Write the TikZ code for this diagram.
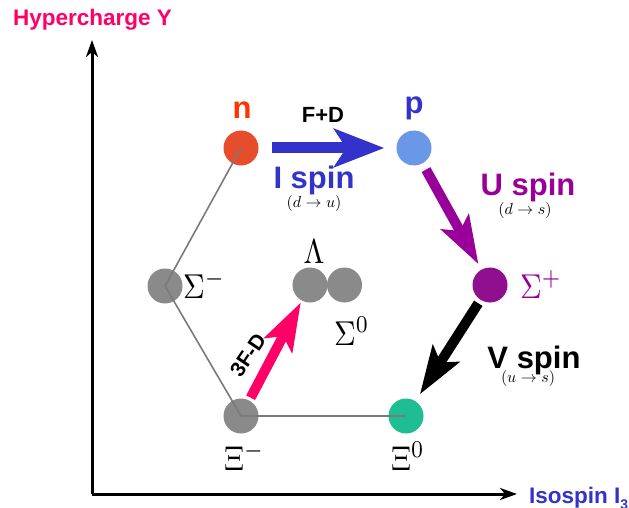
\documentclass[tikz,border=0pt]{standalone}
\usepackage{fontspec}
\usepackage{graphicx}
\usetikzlibrary{arrows.meta}
\newfontfamily\hvf{Liberation Sans}
\definecolor{ymag}{HTML}{FF0066}
\definecolor{iblue}{HTML}{3333CC}
\definecolor{upur}{HTML}{990099}
\definecolor{nred}{HTML}{FF3300}
\definecolor{nfill}{HTML}{E64D2A}
\definecolor{pfill}{HTML}{6A98E6}
\definecolor{sfill}{HTML}{8F0F8F}
\definecolor{xfill}{HTML}{1FBD94}
\definecolor{gfill}{HTML}{8A8A8A}
\definecolor{hexline}{HTML}{7A7A7A}
\tikzset{
  ball/.style={circle, minimum size=35pt, inner sep=0pt, draw=none},
  hexedge/.style={draw=hexline, line width=1.6pt},
  axisline/.style={line width=3pt, -{Stealth[length=17pt,width=12pt,inset=5pt]}},
  bigarrow/.style={line width=11pt, -{Stealth[length=50pt,width=38pt,inset=12pt]}},
  diagarrow/.style={line width=10pt, -{Stealth[length=48pt,width=31pt,inset=10pt]}},
  biglab/.style={font=\hvf\bfseries\fontsize{31}{31}\selectfont, inner sep=0pt, anchor=base},
  midlab/.style={font=\hvf\bfseries\fontsize{22}{22}\selectfont, inner sep=0pt},
  mathlab/.style={inner sep=0pt, anchor=base west},
  sublab/.style={inner sep=0pt}
}
\newcommand{\tallmath}[1]{\scalebox{3}[3.45]{$#1$}}
\newcommand{\smallmath}[1]{\scalebox{1.6}{$#1$}}
\begin{document}
\begin{tikzpicture}[x=1pt,y=-1pt]
\useasboundingbox (0,0) rectangle (629,508);
% axes
\coordinate (O) at (92,494);
\coordinate (Ytip) at (92,40);
\coordinate (Xtip) at (517,494);
\draw[axisline] (O) -- (Ytip);
\draw[axisline] (O) -- (Xtip);
\node[font=\hvf\bfseries\fontsize{22.5}{22.5}\selectfont, text=ymag, inner sep=0pt, anchor=base west] (ylab) at (13,26) {Hypercharge Y};
\node[font=\hvf\bfseries\fontsize{22.5}{22.5}\selectfont, text=iblue, inner sep=0pt, anchor=base west] (xlab) at (529,503) {Isospin I\raisebox{-0.28em}{\fontsize{14}{14}\selectfont 3}};
% particles
\node[ball, fill=nfill] (n) at (241,148) {};
\node[ball, fill=pfill] (p) at (414,148) {};
\node[ball, fill=gfill] (sm) at (165,286) {};
\node[ball, fill=sfill] (sp) at (490,285) {};
\node[ball, fill=gfill] (lam) at (310,285) {};
\node[ball, fill=gfill] (s0) at (344.5,285) {};
\node[ball, fill=gfill] (xm) at (241,416) {};
\node[ball, fill=xfill] (x0) at (406,416) {};
% hexagon edges
\draw[hexedge] (n.center) -- (sm.center) -- (xm.center) -- (x0.center);
% labels
\node[biglab, text=nred] (nlab) at (242,119) {n};
\node[biglab, text=iblue] (plab) at (414,114) {p};
\node[mathlab] (smlab) at (183,298) {\tallmath{\Sigma^-}};
\node[mathlab, text=upur] (splab) at (520,298) {\tallmath{\Sigma^+}};
\node[mathlab, anchor=base] (lamlab) at (314,263) {\tallmath{\Lambda}};
\node[mathlab] (s0lab) at (334,345) {\tallmath{\Sigma^0}};
\node[mathlab] (xmlab) at (224,470) {\tallmath{\Xi^-}};
\node[mathlab] (x0lab) at (391,470) {\tallmath{\Xi^0}};
% arrows
\draw[bigarrow, iblue, shorten <=13pt, shorten >=12pt] (n) -- (p);
\draw[diagarrow, upur, shorten <=7pt, shorten >=6pt] (p) -- (sp);
\draw[diagarrow, black, shorten <=4pt, shorten >=8pt] (sp) -- (x0);
\draw[diagarrow, ymag, shorten <=3pt, shorten >=2pt] (xm) -- (lam);
% arrow labels
\node[midlab, anchor=base] (fd) at (323,123) {F+D};
\node[biglab, text=iblue] (ispin) at (314,188) {I spin};
\node[sublab] (du) at (314,203) {\smallmath{(d\to u)}};
\node[biglab, text=upur] (uspin) at (528,195) {U spin};
\node[sublab] (ds) at (525,210) {\smallmath{(d\to s)}};
\node[biglab] (vspin) at (534,368) {V spin};
\node[sublab] (us) at (528,378) {\smallmath{(u\to s)}};
\node[midlab, font=\hvf\bfseries\fontsize{21}{21}\selectfont, rotate=56] (tfd) at (248,355) {3F-D};
\end{tikzpicture}
\end{document}
